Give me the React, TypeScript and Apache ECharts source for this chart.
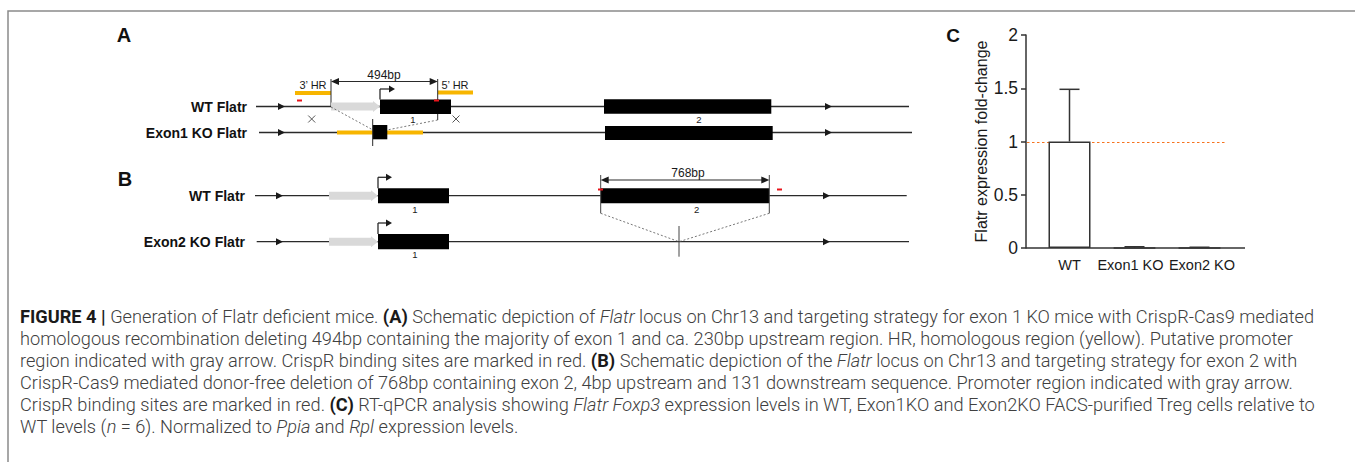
import React, { useEffect, useRef } from "react";
import * as echarts from "echarts";

// ---------- Panel C data ----------
const categories = ["WT", "Exon1 KO", "Exon2 KO"];
const meanValues = [1, 0.002, 0.001];
const errorValues = [0.49, 0.01, 0.006];
const referenceLevel = 1;
const yMin = 0;
const yMax = 2;
const yInterval = 0.5;
const yAxisTitle = "Flatr expression fold-change";

// ---------- Caption text (style key, text) ----------
const captionLines: Array<Array<[string, string]>> = [
  [["b", "FIGURE 4 | "], ["r", "Generation of Flatr deficient mice. "], ["b", "(A)"], ["r", " Schematic depiction of "], ["i", "Flatr"], ["r", " locus on Chr13 and targeting strategy for exon 1 KO mice with CrispR-Cas9 mediated"]],
  [["r", "homologous recombination deleting 494bp containing the majority of exon 1 and ca. 230bp upstream region. HR, homologous region (yellow). Putative promoter"]],
  [["r", "region indicated with gray arrow. CrispR binding sites are marked in red. "], ["b", "(B)"], ["r", " Schematic depiction of the "], ["i", "Flatr"], ["r", " locus on Chr13 and targeting strategy for exon 2 with"]],
  [["r", "CrispR-Cas9 mediated donor-free deletion of 768bp containing exon 2, 4bp upstream and 131 downstream sequence. Promoter region indicated with gray arrow."]],
  [["r", "CrispR binding sites are marked in red. "], ["b", "(C)"], ["r", " RT-qPCR analysis showing "], ["i", "Flatr Foxp3"], ["r", " expression levels in WT, Exon1KO and Exon2KO FACS-purified Treg cells relative to"]],
  [["r", "WT levels ("], ["i", "n"], ["r", " = 6). Normalized to "], ["i", "Ppia"], ["r", " and "], ["i", "Rpl"], ["r", " expression levels."]],
];

const INK = "#1a1a1a";
const YELLOW = "#f7b500";
const RED = "#e8141b";
const GRAY = "#d9d9d9";
const ORANGE = "#f5731f";
const SANS = "Liberation Sans, Arial, sans-serif";

function ln(x1: number, y1: number, x2: number, y2: number, w = 1.3, stroke = "#2a2a2a", dash?: number[]) {
  return { type: "line", silent: true, shape: { x1, y1, x2, y2 }, style: { stroke, lineWidth: w, lineDash: dash } };
}
function rc(x: number, y: number, w: number, h: number, fill: string) {
  return { type: "rect", silent: true, shape: { x, y, width: w, height: h }, style: { fill } };
}
function poly(points: number[][], fill = INK) {
  return { type: "polygon", silent: true, shape: { points }, style: { fill } };
}
function arrowR(x: number, y: number, l = 7, h = 3.5) {
  return poly([[x - l, y - h], [x, y], [x - l, y + h]]);
}
function arrowL(x: number, y: number, l = 7, h = 3.5) {
  return poly([[x + l, y - h], [x, y], [x + l, y + h]]);
}
function txt(x: number, y: number, t: string, size: number, opts: any = {}) {
  return {
    type: "text",
    silent: true,
    style: {
      x, y, text: t,
      fontSize: size,
      fontFamily: opts.family || SANS,
      fontWeight: opts.weight || "normal",
      fill: opts.fill || INK,
      align: opts.align || "center",
      verticalAlign: "middle",
      textAlign: opts.align || "center",
      textVerticalAlign: "middle",
    },
  };
}
function grayArrow(x0: number, x1: number, y: number) {
  return poly([[x0, y - 4], [x1 - 7, y - 4], [x1 - 7, y - 5.5], [x1, y], [x1 - 7, y + 5.5], [x1 - 7, y + 4], [x0, y + 4]], GRAY);
}
function promoter(x: number, yTop: number, h = 10.5, len = 15) {
  return [ln(x, yTop, x, yTop - h, 1.3), ln(x, yTop - h, x + len - 5, yTop - h, 1.3), arrowR(x + len, yTop - h, 6, 3.5)];
}
function xMark(x: number, y: number, s = 3.5) {
  return [ln(x - s, y - s, x + s, y + s, 0.9, "#444"), ln(x - s, y + s, x + s, y - s, 0.9, "#444")];
}
function dimArrow(x1: number, x2: number, y: number) {
  return [ln(x1 + 6, y, x2 - 6, y, 1.2), arrowL(x1, y, 8, 3.5), arrowR(x2, y, 8, 3.5)];
}

function schematic(): any[] {
  const els: any[] = [];
  const labelFont = { weight: "bold", align: "right", family: SANS, fill: "#111" };
  // ---- Panel A ----
  const aW = 106.5, aK = 132.5;
  els.push(txt(124, 35, "A", 20, { weight: "bold", family: SANS, fill: "#111" }));
  els.push(txt(247, aW, "WT Flatr", 14, labelFont));
  els.push(txt(247, aK, "Exon1 KO Flatr", 14, labelFont));
  els.push(ln(256, aW, 909, aW), arrowR(285, aW), arrowR(832, aW));
  els.push(ln(259, aK, 912, aK), arrowR(285, aK), arrowR(832, aK));
  els.push(rc(295, 91, 36, 4, YELLOW), txt(313, 85, "3’ HR", 11));
  els.push(rc(438, 90.5, 35, 4, YELLOW), txt(455, 85, "5’ HR", 11));
  els.push(rc(297, 99.5, 5, 2, RED));
  els.push(ln(331, 79, 331, aW, 1), ln(437.7, 79, 437.7, 120, 1));
  els.push(...dimArrow(331, 437.7, 81.5), txt(384, 74.5, "494bp", 12));
  els.push(grayArrow(331, 380, aW));
  els.push(rc(380, 99.5, 71, 14.5, "#000"));
  els.push(rc(434, 99.5, 5, 2, RED));
  els.push(...promoter(380, 99.5));
  els.push(txt(413, 119.5, "1", 9.5));
  els.push(...xMark(311.7, 119), ...xMark(456, 119));
  els.push(ln(331, 107, 373, 130, 0.8, "#555", [2, 2]), ln(437.7, 120, 387, 130, 0.8, "#555", [2, 2]));
  els.push(rc(337, 130.5, 86, 4, YELLOW));
  els.push(rc(372.7, 125, 14.6, 14.3, "#000"));
  els.push(ln(372.7, 119, 372.7, 146, 1));
  els.push(rc(604, 99.3, 167.3, 14.4, "#000"));
  els.push(rc(605, 126, 167.7, 14, "#000"));
  els.push(txt(699, 119.5, "2", 9.5));

  // ---- Panel B ----
  const bW = 195.7, bK = 241.7;
  els.push(txt(125, 178.5, "B", 20, { weight: "bold", family: SANS, fill: "#111" }));
  els.push(txt(245, bW, "WT Flatr", 14, labelFont));
  els.push(txt(245, bK, "Exon2 KO Flatr", 14, labelFont));
  els.push(ln(255, bW, 906.7, bW), arrowR(283, bW), arrowR(830, bW));
  els.push(ln(256.7, bK, 909, bK), arrowR(283, bK), arrowR(830, bK));
  els.push(grayArrow(329, 378, bW), grayArrow(329, 378, bK));
  els.push(rc(378, 188.3, 71, 15, "#000"), rc(378, 234, 71, 15.3, "#000"));
  els.push(...promoter(378, 188.3, 11, 14), ...promoter(378, 234, 11, 14));
  els.push(txt(415, 209.5, "1", 9.5), txt(415, 254.5, "1", 9.5));
  els.push(rc(600.7, 188.3, 168.6, 15, "#000"));
  els.push(ln(600.7, 175, 600.7, 213.3, 1, "#444"), ln(769.3, 175, 769.3, 213.3, 1, "#444"));
  els.push(...dimArrow(600.7, 769.3, 180), txt(688, 172.5, "768bp", 12));
  els.push(rc(598, 188.5, 5, 2, RED), rc(777, 188.5, 5, 2, RED));
  els.push(txt(696.7, 209.5, "2", 9.5));
  els.push(ln(679, 226, 679, 256.7, 1, "#444"));
  els.push(ln(600.7, 213.3, 679, bK, 0.8, "#555", [2, 2]), ln(769.3, 213.3, 679, bK, 0.8, "#555", [2, 2]));

  // ---- Panel C letter ----
  els.push(txt(953, 35, "C", 19, { weight: "bold", family: SANS, fill: "#111" }));
  els.push({ ...ln(1026, 248, 1245, 248, 1.5, "#333"), z: 10 });
  return els;
}

const CAPTION_FAMILY = "Roboto, 'Liberation Sans', Arial, sans-serif";

function fitCaptionSize(): number {
  try {
    const ctx = document.createElement("canvas").getContext("2d");
    if (!ctx) return 16.5;
    ctx.font = `300 100px ${CAPTION_FAMILY}`;
    const s = captionLines[1].map((p) => p[1]).join("");
    const w = ctx.measureText(s).width;
    const size = (100 * 1274) / w;
    return Math.max(13, Math.min(19, size));
  } catch (e) {
    return 16.5;
  }
}

function captionElements(size: number): any[] {
  const rich: any = {
    r: { fontSize: size, fontFamily: CAPTION_FAMILY, fill: "#404040", fontWeight: 300, fontStyle: "normal" },
    b: { fontSize: size, fontFamily: CAPTION_FAMILY, fill: "#1a1a1a", fontWeight: "bold", fontStyle: "normal" },
    i: { fontSize: size, fontFamily: CAPTION_FAMILY, fill: "#404040", fontWeight: 300, fontStyle: "italic" },
  };
  return captionLines.map((segs, k) => ({
    type: "text",
    silent: true,
    style: {
      x: 20,
      y: 316 + k * 22,
      text: segs.map(([st, t]) => `{${st}|${t}}`).join(""),
      rich,
      fontSize: size,
      fontFamily: CAPTION_FAMILY,
      fill: "#404040",
      align: "left",
      verticalAlign: "middle",
      textAlign: "left",
      textVerticalAlign: "middle",
    },
  }));
}

const labelShift: Record<string, number[]> = {
  "WT": [0, 0, 0, 0],
  "Exon1 KO": [0, 8, 0, 0],
  "Exon2 KO": [0, 0, 0, 5],
};

export default function App() {
  const ref = useRef<HTMLDivElement>(null);
  useEffect(() => {
    document.body.style.margin = "0";
    if (!ref.current) return;
    const chart = echarts.init(ref.current, null, { renderer: "svg" });
    const capSize = fitCaptionSize();
    const errData = categories.map((c, i) => [i, meanValues[i], meanValues[i] + errorValues[i]]);
    const option: any = {
      animation: false,
      backgroundColor: "#ffffff",
      grid: { left: 1037, width: 195, top: 35, height: 213, containLabel: false },
      xAxis: {
        type: "category",
        data: categories.map((c) => ({ value: c, textStyle: { padding: labelShift[c] } })),
        axisLine: { show: false },
        axisTick: { show: false },
        axisLabel: { interval: 0, hideOverlap: false, fontSize: 14.5, color: "#1a1a1a", fontFamily: SANS, margin: 9 },
        splitLine: { show: false },
      },
      yAxis: {
        type: "value",
        min: yMin,
        max: yMax,
        interval: yInterval,
        offset: 11,
        axisLine: { show: true, lineStyle: { color: "#333", width: 1.5 } },
        axisTick: { show: true, length: 5, lineStyle: { color: "#333", width: 1.5 } },
        axisLabel: { fontSize: 17.5, color: "#1a1a1a", fontFamily: SANS, margin: 8 },
        splitLine: { show: false },
        name: yAxisTitle,
        nameLocation: "middle",
        nameGap: 36,
        nameTextStyle: { fontSize: 16, color: "#1a1a1a", fontFamily: SANS },
      },
      series: [
        {
          type: "custom",
          data: errData,
          encode: { x: 0, y: [1, 2] },
          z: 1,
          renderItem: (params: any, api: any) => {
            const i = api.value(0);
            const lo = api.coord([i, api.value(1)]);
            const hi = api.coord([i, api.value(2)]);
            const half = 10;
            const children: any[] = [
              { type: "line", shape: { x1: lo[0], y1: lo[1], x2: hi[0], y2: hi[1] }, style: { stroke: "#333", lineWidth: 1.5 } },
              { type: "line", shape: { x1: hi[0] - half, y1: hi[1], x2: hi[0] + half, y2: hi[1] }, style: { stroke: "#333", lineWidth: 1.5 } },
            ];
            if (params.dataIndex === 0) {
              const cs = params.coordSys;
              const ry = Math.round(api.coord([0, referenceLevel])[1]) + 0.5;
              children.unshift({
                type: "line",
                shape: { x1: cs.x - 10, y1: ry, x2: cs.x + cs.width - 5, y2: ry },
                style: { stroke: ORANGE, lineWidth: 1.2, lineDash: [2.5, 2.5], opacity: 1 },
              });
            }
            return { type: "group", children };
          },
        },
        {
          type: "bar",
          data: meanValues,
          barWidth: 42,
          itemStyle: { color: "#ffffff", borderColor: "#333", borderWidth: 1.5 },
          z: 2,
        },
      ],
      graphic: [
        { type: "rect", silent: true, shape: { x: 8, y: 11, width: 1360, height: 470 }, style: { fill: "none", stroke: "#8a8a8a", lineWidth: 1.5 } },
        ...schematic(),
        ...captionElements(capSize),
      ],
    };
    chart.setOption(option);
    return () => chart.dispose();
  }, []);
  return <div ref={ref} style={{ position: "fixed", left: 0, top: 0, width: 1355, height: 462 }} />;
}
